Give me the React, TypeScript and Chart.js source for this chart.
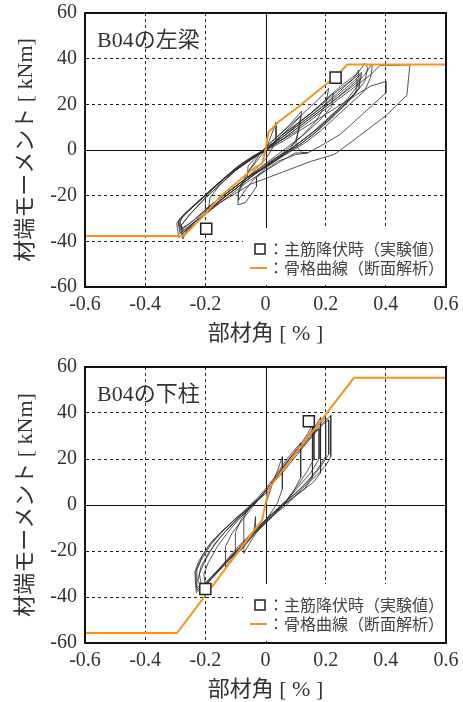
import React, { useEffect, useRef } from 'react';
import { Chart, registerables } from 'chart.js';

Chart.register(...registerables);

// ---------- shared axis data ----------
const xTickValues = [-0.6, -0.4, -0.2, 0, 0.2, 0.4, 0.6];
const xTickLabels = ['-0.6', '-0.4', '-0.2', '0', '0.2', '0.4', '0.6'];
const yTickValues = [-60, -40, -20, 0, 20, 40, 60];
const yTickLabels = ['-60', '-40', '-20', '0', '20', '40', '60'];
const xAxisTitle = '部材角 [ % ]';
const yAxisTitle = '材端モーメント [ kNm]';
const legendYield = '：主筋降伏時（実験値）';
const legendSkeleton = '：骨格曲線（断面解析）';

// ---------- top panel: B04の左梁 ----------
const beamTitle = 'B04の左梁';
const beamHysteresis: [number, number][] = [
  [0, 0], [0.015, 5], [0.035, 12], [0.035, 5], [0.02, 0], [0, -4], [-0.03, -8], [-0.06, -12], [-0.058, -7], [-0.03, -3], [0, 1],
  [0.04, 6], [0.08, 11], [0.12, 17], [0.115, 11], [0.1, 4], [0.08, 0], [0.05, -3], [0, -8], [-0.04, -13], [-0.07, -18], [-0.09, -22], [-0.09, -18], [-0.06, -10], [-0.03, -5], [0, 0],
  [0.05, 6], [0.09, 11], [0.117, 15], [0.11, 9], [0.1, 2], [0.12, -1], [0.14, -1.3], [0.1, -2], [0.04, -5], [0, -9], [-0.03, -12], [-0.03, -16], [-0.05, -20], [-0.067, -23], [-0.092, -24], [-0.09, -19], [-0.06, -10], [-0.02, -2], [0.005, 2],
  [0.05, 7], [0.1, 13], [0.15, 19], [0.19, 24], [0.21, 27], [0.2, 20], [0.17, 13], [0.12, 6], [0.07, 0], [0.02, -5], [-0.03, -10], [-0.08, -15], [-0.13, -20], [-0.19, -27], [-0.185, -21], [-0.15, -15], [-0.1, -9], [-0.05, -4], [0, 0],
  [0.05, 6], [0.1, 11], [0.15, 16], [0.2, 22], [0.225, 25], [0.22, 19], [0.18, 13], [0.13, 7], [0.08, 2], [0.03, -3], [-0.02, -8], [-0.07, -13], [-0.13, -19], [-0.19, -25], [-0.2, -26], [-0.2, -20], [-0.14, -13], [-0.08, -6], [-0.03, -2], [0, 0],
  [0.05, 6], [0.1, 11], [0.15, 16], [0.2, 22], [0.25, 28], [0.3, 33], [0.31, 35], [0.306, 28], [0.27, 22], [0.22, 15], [0.17, 9], [0.12, 4], [0.07, -1], [0.02, -6], [-0.04, -11], [-0.1, -17], [-0.16, -23], [-0.22, -30], [-0.27, -35], [-0.28, -36], [-0.29, -31], [-0.25, -26], [-0.2, -20], [-0.15, -14], [-0.1, -8], [-0.05, -3.5], [0, 0],
  [0.06, 6], [0.12, 12], [0.18, 18], [0.24, 24], [0.3, 31], [0.315, 33], [0.31, 27], [0.27, 21], [0.22, 14], [0.17, 8], [0.12, 3], [0.06, -2], [0, -7], [-0.06, -12], [-0.12, -18], [-0.18, -24], [-0.24, -31], [-0.28, -35], [-0.285, -30], [-0.24, -24.5], [-0.19, -18.5], [-0.14, -12.5], [-0.09, -7], [-0.04, -2.5], [0, 0.5],
  [0.06, 6], [0.12, 13], [0.18, 19], [0.24, 26], [0.29, 31], [0.32, 34], [0.31, 27], [0.28, 22], [0.23, 16], [0.18, 10], [0.13, 5], [0.08, 0], [0.03, -4], [-0.03, -10], [-0.09, -16], [-0.15, -22], [-0.21, -29], [-0.26, -34], [-0.29, -37], [-0.295, -32], [-0.26, -27], [-0.21, -21], [-0.16, -15], [-0.11, -9.5], [-0.06, -5], [0, 0],
  [0.06, 5], [0.12, 11], [0.18, 17], [0.24, 23], [0.3, 30], [0.305, 31], [0.3, 25], [0.26, 19], [0.21, 13], [0.16, 7], [0.11, 2], [0.05, -3], [-0.01, -8], [-0.07, -13], [-0.13, -19], [-0.19, -25], [-0.25, -32], [-0.275, -34], [-0.29, -33], [-0.27, -28], [-0.22, -22], [-0.17, -16], [-0.12, -10.5], [-0.07, -6], [-0.02, -1.5], [0, 1],
  [0.06, 6], [0.12, 12], [0.18, 18], [0.24, 25], [0.29, 31], [0.32, 36], [0.33, 38], [0.34, 36], [0.33, 30], [0.3, 25], [0.25, 19], [0.2, 13], [0.15, 7], [0.1, 2], [0.04, -3], [-0.02, -8], [-0.08, -14], [-0.15, -21], [-0.21, -28], [-0.26, -35], [-0.275, -39], [-0.28, -33], [-0.25, -28], [-0.2, -21], [-0.15, -15], [-0.1, -9], [-0.05, -4], [0, 0],
  [0.06, 5], [0.12, 11], [0.18, 17], [0.24, 23], [0.3, 29], [0.33, 33], [0.35, 37], [0.355, 37], [0.35, 32], [0.33, 26], [0.28, 20], [0.23, 14], [0.18, 8], [0.13, 3], [0.08, -1], [0.03, -5], [-0.03, -10], [-0.09, -16], [-0.15, -22], [-0.21, -29], [-0.27, -37], [-0.285, -36], [-0.29, -31], [-0.25, -26], [-0.2, -20], [-0.15, -14], [-0.1, -8.5], [-0.05, -4], [0, -0.5],
  [0.06, 4], [0.12, 9], [0.18, 14], [0.24, 19], [0.3, 24], [0.35, 28], [0.4, 30], [0.4, 25], [0.35, 19], [0.3, 13], [0.25, 7], [0.2, 3], [0.14, -1.3], [0.1, -1.3], [0.05, -5], [0, -9], [-0.06, -14], [-0.12, -20], [-0.18, -26], [-0.23, -32], [-0.27, -36], [-0.28, -33], [-0.25, -28], [-0.2, -21], [-0.15, -15], [-0.1, -9], [-0.05, -4.5], [0, 0],
  [0.1, 8], [0.2, 18], [0.3, 28], [0.35, 33], [0.38, 37], [0.48, 37.3], [0.47, 24], [0.4, 15], [0.3, 5], [0.228, -2], [0.15, -5], [0.05, -10], [-0.05, -15], [-0.15, -23], [-0.25, -33], [-0.29, -38.6],
];
const beamSkeleton: [number, number][] = [
  [-0.6, -37.7], [-0.272, -37.7], [-0.2, -28], [-0.15, -20.4], [-0.039, -8], [-0.011, -6], [0, 0], [0.006, 5.1], [0.011, 8],
  [0.044, 12.4], [0.117, 19.7], [0.211, 29.9], [0.233, 32], [0.25, 34.3], [0.272, 37.5], [0.6, 37.5],
];
const beamYield: [number, number][] = [[0.233, 31.7], [-0.197, -34.5]];

// ---------- bottom panel: B04の下柱 ----------
const columnTitle = 'B04の下柱';
const columnHysteresis: [number, number][] = [
  [0, 0], [0.02, 8], [0.04, 15], [0.056, 21], [0.056, 7], [0.04, 1], [0.02, -3], [0, -7], [-0.03, -12], [-0.05, -16], [-0.072, -21], [-0.072, -5], [-0.05, 0], [-0.02, 4], [0, 7],
  [0.03, 12], [0.06, 18], [0.09, 23], [0.117, 27], [0.117, 12], [0.09, 5], [0.06, 0], [0.03, -4], [0, -8], [-0.04, -13], [-0.07, -18], [-0.1, -22], [-0.1, -12], [-0.08, -6], [-0.05, -1], [-0.02, 3], [0, 6],
  [0.03, 11], [0.06, 17], [0.09, 22], [0.12, 27], [0.14, 31], [0.156, 35], [0.156, 12], [0.13, 7], [0.1, 4], [0.07, 0], [0.04, -3], [0, -8], [-0.033, -12], [-0.033, -5], [-0.04, -13], [-0.08, -19], [-0.11, -23], [-0.133, -27], [-0.133, -18], [-0.11, -12], [-0.08, -7], [-0.05, -2], [-0.02, 3], [0, 6],
  [0.03, 11], [0.06, 16], [0.1, 22], [0.13, 28], [0.161, 34], [0.161, 20], [0.14, 15], [0.11, 9], [0.08, 4], [0.06, 0], [0.03, -3], [0, -7], [-0.05, -14], [-0.1, -21], [-0.15, -28], [-0.2, -35], [-0.205, -30], [-0.19, -25], [-0.16, -18], [-0.12, -11], [-0.08, -5], [-0.04, 0], [0, 6],
  [0.04, 12], [0.08, 19], [0.12, 25], [0.16, 32], [0.178, 33], [0.178, 20], [0.15, 14], [0.11, 8], [0.07, 2], [0.03, -3], [-0.01, -8], [-0.06, -15], [-0.11, -22], [-0.16, -29], [-0.21, -36], [-0.225, -33], [-0.215, -27], [-0.19, -21], [-0.15, -14], [-0.11, -8], [-0.07, -3], [-0.03, 2], [0, 6],
  [0.04, 13], [0.08, 20], [0.12, 26], [0.15, 31], [0.183, 38], [0.183, 14], [0.16, 10], [0.12, 6], [0.08, 2], [0.05, -1], [0.02, -4], [-0.02, -9], [-0.07, -16], [-0.12, -23], [-0.17, -30], [-0.21, -35], [-0.228, -37], [-0.228, -28], [-0.21, -22], [-0.18, -16], [-0.14, -11], [-0.1, -6], [-0.06, -2], [-0.02, 3], [0, 6],
  [0.04, 13], [0.08, 20], [0.12, 26], [0.16, 32], [0.2, 38], [0.2, 21], [0.17, 15], [0.13, 9], [0.09, 4], [0.06, 0], [0.02, -5], [-0.03, -11], [-0.08, -18], [-0.13, -25], [-0.18, -32], [-0.21, -37], [-0.22, -30], [-0.2, -24], [-0.17, -17], [-0.13, -11], [-0.09, -6], [-0.05, -1], [0, 6],
  [0.05, 13], [0.1, 21], [0.15, 29], [0.19, 35], [0.21, 37], [0.21, 22], [0.18, 16], [0.14, 10], [0.1, 5], [0.06, 1], [0.02, -4], [-0.03, -10], [-0.09, -18], [-0.15, -27], [-0.2, -34], [-0.23, -36], [-0.232, -29], [-0.21, -23], [-0.18, -17], [-0.14, -11], [-0.1, -6], [-0.05, -1], [0, 5],
  [0.05, 14], [0.1, 22], [0.14, 28], [0.18, 34], [0.217, 39], [0.217, 21], [0.2, 17], [0.17, 13], [0.13, 8], [0.09, 3], [0.06, 0], [0.02, -5], [-0.03, -11], [-0.08, -18], [-0.13, -25], [-0.18, -32], [-0.23, -38], [-0.235, -29], [-0.22, -24], [-0.19, -18], [-0.15, -12], [-0.1, -6], [-0.05, 0], [0, 5],
];
const columnSkeleton: [number, number][] = [
  [-0.6, -55.7], [-0.294, -55.7], [-0.011, -6.5], [0.011, 7.3], [0.294, 55.3], [0.6, 55.3],
];
const columnYield: [number, number][] = [[0.144, 36.4], [-0.2, -36.5]];

const ORANGE = '#F7941D';
const LOOP = '#2b2b2b';
const TEXT = '#333333';
const SERIF = '"Liberation Serif", "Noto Sans CJK JP", serif';
const CJK = '"Liberation Serif", "Noto Sans CJK JP", sans-serif';

const toPts = (arr: [number, number][]) => arr.map(([x, y]) => ({ x, y }));

const panelPlugin = (title: string) => ({
  id: 'panelDecor',
  beforeDatasetsDraw(chart: any) {
    const { ctx, chartArea, scales } = chart;
    const x0 = scales.x.getPixelForValue(0);
    const y0 = scales.y.getPixelForValue(0);
    ctx.save();
    ctx.strokeStyle = '#111';
    ctx.lineWidth = 1;
    ctx.beginPath();
    ctx.moveTo(Math.round(x0) + 0.5, chartArea.top);
    ctx.lineTo(Math.round(x0) + 0.5, chartArea.bottom);
    ctx.moveTo(chartArea.left, Math.round(y0) + 0.5);
    ctx.lineTo(chartArea.right, Math.round(y0) + 0.5);
    ctx.stroke();
    ctx.restore();
  },
  afterDatasetsDraw(chart: any) {
    const { ctx, chartArea } = chart;
    const { left, right, top, bottom } = chartArea;
    ctx.save();
    ctx.fillStyle = TEXT;
    ctx.font = '22px ' + CJK;
    ctx.textBaseline = 'alphabetic';
    ctx.textAlign = 'left';
    ctx.fillText(title, left + 12, top + 34);
    ctx.fillStyle = '#ffffff';
    ctx.fillRect(left + 158, bottom - 59, right - left - 160, 57);
    ctx.strokeStyle = '#222';
    ctx.lineWidth = 1.5;
    ctx.fillStyle = '#fff';
    ctx.fillRect(left + 170, bottom - 43, 10, 10);
    ctx.strokeRect(left + 170, bottom - 43, 10, 10);
    ctx.strokeStyle = ORANGE;
    ctx.lineWidth = 2;
    ctx.beginPath();
    ctx.moveTo(left + 165, bottom - 19);
    ctx.lineTo(left + 182, bottom - 19);
    ctx.stroke();
    ctx.fillStyle = '#444';
    ctx.font = '16px "Noto Sans CJK JP", sans-serif';
    ctx.textBaseline = 'middle';
    ctx.fillText(legendYield, left + 183, bottom - 38);
    ctx.fillText(legendSkeleton, left + 183, bottom - 19);
    ctx.strokeStyle = '#111';
    ctx.lineWidth = 2;
    ctx.strokeRect(left, top, right - left, bottom - top);
    ctx.restore();
  },
});

const gridColor = (c: any) => (c.tick && Math.abs(c.tick.value) < 1e-9 ? 'rgba(0,0,0,0)' : '#222');

function makeConfig(title: string, loops: [number, number][], skeleton: [number, number][], yieldPts: [number, number][]): any {
  return {
    type: 'scatter',
    data: {
      datasets: [
        {
          data: toPts(yieldPts),
          showLine: false,
          pointStyle: 'rect',
          pointRadius: 7.8,
          pointBackgroundColor: '#ffffff',
          pointBorderColor: '#222',
          pointBorderWidth: 1.5,
        },
        {
          data: toPts(skeleton),
          showLine: true,
          borderColor: ORANGE,
          borderWidth: 2,
          pointRadius: 0,
          tension: 0,
        },
        {
          data: toPts(loops),
          showLine: true,
          borderColor: LOOP,
          borderWidth: 0.8,
          pointRadius: 0,
          tension: 0,
        },
      ],
    },
    options: {
      animation: false,
      responsive: false,
      devicePixelRatio: 1,
      events: [],
      layout: { padding: { top: 13, left: 0, right: 17, bottom: 0 } },
      plugins: { legend: { display: false }, tooltip: { enabled: false }, title: { display: false } },
      scales: {
        x: {
          type: 'linear',
          min: -0.6,
          max: 0.6,
          afterBuildTicks: (s: any) => { s.ticks = xTickValues.map((v) => ({ value: v })); },
          afterFit: (s: any) => { s.height = 60; },
          ticks: {
            autoSkip: false,
            maxRotation: 0,
            padding: 0,
            color: TEXT,
            font: { family: SERIF, size: 20 },
            callback: (_v: any, i: number) => xTickLabels[i],
          },
          grid: {
            drawTicks: true,
            tickLength: 6,
            tickColor: 'rgba(0,0,0,0)',
            color: gridColor,
            lineWidth: 1,
          },
          border: { display: true, color: '#111', width: 2, dash: [3, 3] },
          title: { display: true, text: xAxisTitle, color: TEXT, font: { family: CJK, size: 22 }, padding: { top: 0, bottom: 0 } },
        },
        y: {
          type: 'linear',
          min: -60,
          max: 60,
          afterBuildTicks: (s: any) => { s.ticks = yTickValues.map((v) => ({ value: v })); },
          afterFit: (s: any) => { s.width = 85; },
          ticks: {
            autoSkip: false,
            padding: 0,
            color: TEXT,
            font: { family: SERIF, size: 20 },
            callback: (_v: any, i: number) => yTickLabels[i],
          },
          grid: {
            drawTicks: true,
            tickLength: 8,
            tickColor: 'rgba(0,0,0,0)',
            color: gridColor,
            lineWidth: 1,
          },
          border: { display: true, color: '#111', width: 2, dash: [3, 3] },
          title: { display: true, text: yAxisTitle, color: TEXT, font: { family: CJK, size: 22 }, padding: { top: 13, bottom: 0 } },
        },
      },
    },
    plugins: [panelPlugin(title)],
  };
}

function Panel(props: { title: string; loops: [number, number][]; skeleton: [number, number][]; yieldPts: [number, number][]; top: number; height: number }) {
  const ref = useRef<HTMLCanvasElement | null>(null);
  useEffect(() => {
    if (!ref.current) return;
    const chart = new Chart(ref.current, makeConfig(props.title, props.loops, props.skeleton, props.yieldPts));
    return () => chart.destroy();
  }, []);
  return (
    <canvas
      ref={ref}
      width={463}
      height={props.height}
      style={{ position: 'absolute', left: 0, top: props.top, width: 463, height: props.height }}
    />
  );
}

export default function App() {
  return (
    <div style={{ position: 'fixed', left: 0, top: 0, width: 463, height: 702, background: '#fff', overflow: 'hidden' }}>
      <Panel title={beamTitle} loops={beamHysteresis} skeleton={beamSkeleton} yieldPts={beamYield} top={0} height={347} />
      <Panel title={columnTitle} loops={columnHysteresis} skeleton={columnSkeleton} yieldPts={columnYield} top={354} height={349} />
    </div>
  );
}
